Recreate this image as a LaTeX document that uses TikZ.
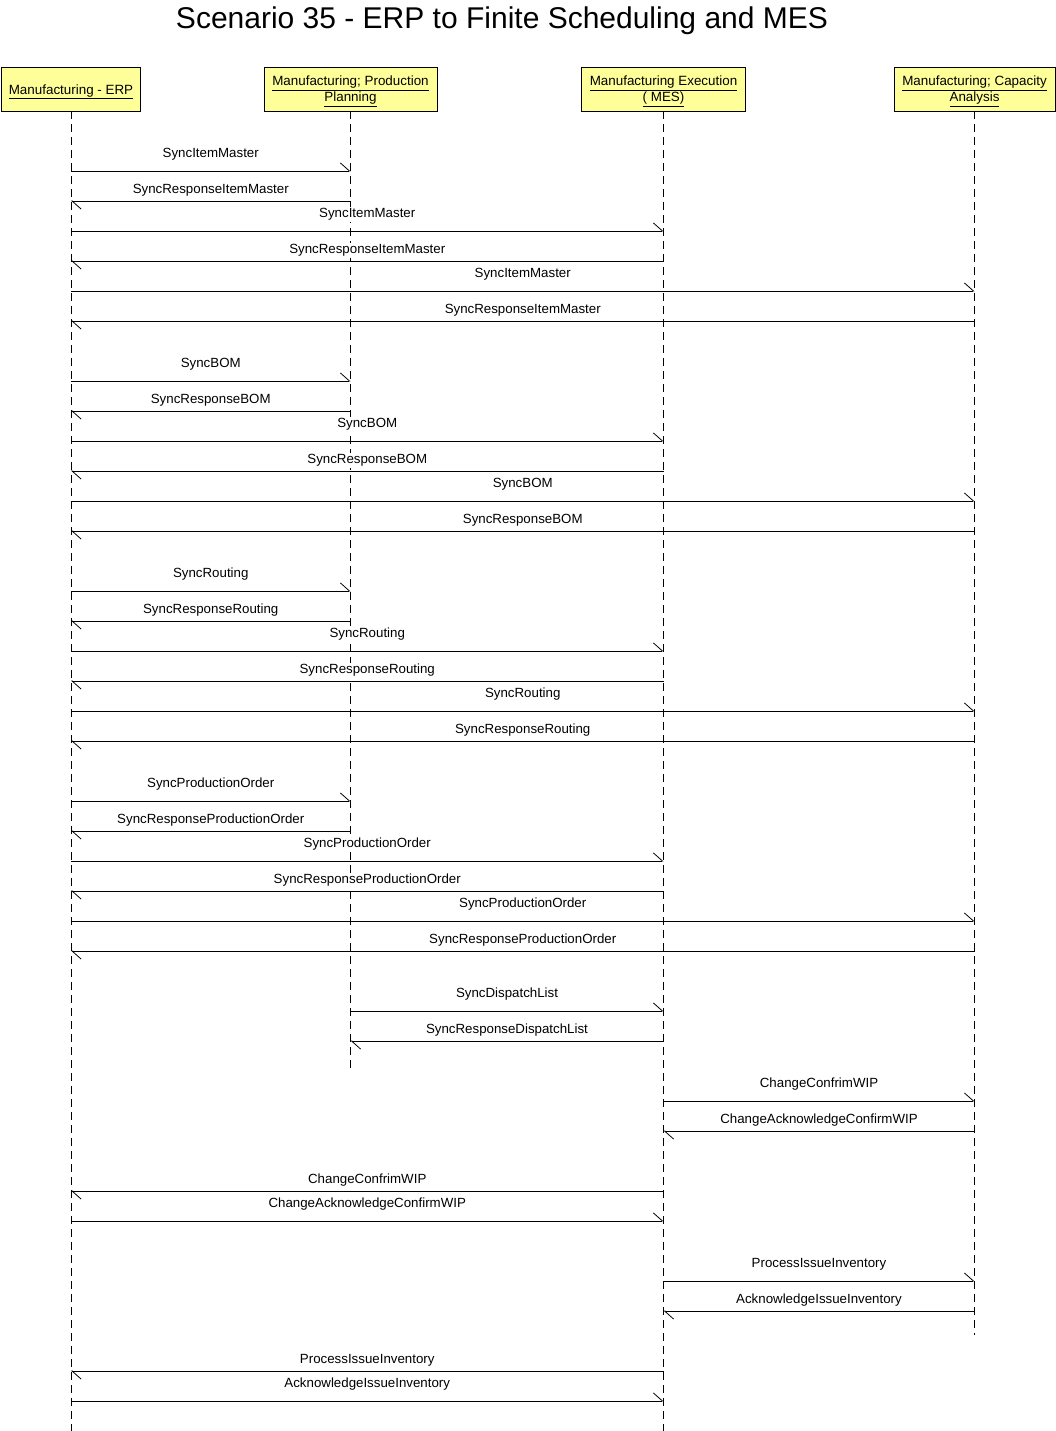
\documentclass[tikz,border=0pt]{standalone}
\usepackage{fontspec}
\setmainfont{Liberation Sans}
\usetikzlibrary{arrows.meta}
\definecolor{boxfill}{HTML}{FFFF99}
\tikzset{
  actor/.style={draw=black, line width=0.8pt, fill=boxfill, inner sep=0pt,
    align=center, font=\fontsize{13.4}{16}\selectfont},
  life/.style={draw=black, line width=0.8pt, dash pattern=on 8pt off 5pt},
  msg/.style={draw=black, line width=0.8pt,
    -{Straight Barb[harpoon, length=9pt, width=16pt, line width=0.8pt]}},
  lbl/.style={fill=white, inner sep=1pt, font=\fontsize{13.3}{16}\selectfont}
}
% rightward call (label higher) and leftward reply (label lower)
\newcommand\callmsg[4]{\draw[msg] (#1.south |- 0,#3) -- node[lbl, yshift=16.5pt] {#4} (#2.south |- 0,#3);}
\newcommand\replymsg[4]{\draw[msg] (#1.south |- 0,#3) -- node[lbl, yshift=10.5pt] {#4} (#2.south |- 0,#3);}
\begin{document}
\begin{tikzpicture}[x=1pt, y=-1pt]
\useasboundingbox (0,0) rectangle (1056,1431);

\node[font=\fontsize{30}{36}\selectfont] (title) at (502,21) {Scenario 35 - ERP to Finite Scheduling and MES};

% participants
\node[actor, minimum width=139pt, minimum height=44pt, text height=14pt, text depth=3pt] (erp) at (71,89) {\underline{Manufacturing - ERP}};
\node[actor, minimum width=173pt, minimum height=44pt, text depth=0pt] (pp) at (350.5,89) {\underline{Manufacturing; Production}\\\underline{Planning}};
\node[actor, minimum width=164pt, minimum height=44pt, text depth=0pt] (mes) at (663.5,89) {\underline{Manufacturing Execution}\\\underline{( MES)}};
\node[actor, minimum width=161pt, minimum height=44pt, text depth=0pt] (ca) at (974.5,89) {\underline{Manufacturing; Capacity}\\\underline{Analysis}};

% lifelines
\coordinate (erpEnd) at (71,1431);
\coordinate (ppEnd) at (350.5,1072);
\coordinate (mesEnd) at (663.5,1431);
\coordinate (caEnd) at (974.5,1335);
\draw[life] (erp.south) -- (erpEnd);
\draw[life] (pp.south) -- (ppEnd);
\draw[life] (mes.south) -- (mesEnd);
\draw[life] (ca.south) -- (caEnd);

% item master
\callmsg{erp}{pp}{171}{SyncItemMaster}
\replymsg{pp}{erp}{201}{SyncResponseItemMaster}
\callmsg{erp}{mes}{231}{SyncItemMaster}
\replymsg{mes}{erp}{261}{SyncResponseItemMaster}
\callmsg{erp}{ca}{291}{SyncItemMaster}
\replymsg{ca}{erp}{321}{SyncResponseItemMaster}

% bill of materials
\callmsg{erp}{pp}{381}{SyncBOM}
\replymsg{pp}{erp}{411}{SyncResponseBOM}
\callmsg{erp}{mes}{441}{SyncBOM}
\replymsg{mes}{erp}{471}{SyncResponseBOM}
\callmsg{erp}{ca}{501}{SyncBOM}
\replymsg{ca}{erp}{531}{SyncResponseBOM}

% routing
\callmsg{erp}{pp}{591}{SyncRouting}
\replymsg{pp}{erp}{621}{SyncResponseRouting}
\callmsg{erp}{mes}{651}{SyncRouting}
\replymsg{mes}{erp}{681}{SyncResponseRouting}
\callmsg{erp}{ca}{711}{SyncRouting}
\replymsg{ca}{erp}{741}{SyncResponseRouting}

% production order
\callmsg{erp}{pp}{801}{SyncProductionOrder}
\replymsg{pp}{erp}{831}{SyncResponseProductionOrder}
\callmsg{erp}{mes}{861}{SyncProductionOrder}
\replymsg{mes}{erp}{891}{SyncResponseProductionOrder}
\callmsg{erp}{ca}{921}{SyncProductionOrder}
\replymsg{ca}{erp}{951}{SyncResponseProductionOrder}

% dispatch list
\callmsg{pp}{mes}{1011}{SyncDispatchList}
\replymsg{mes}{pp}{1041}{SyncResponseDispatchList}

% work in progress
\callmsg{mes}{ca}{1101}{ChangeConfrimWIP}
\replymsg{ca}{mes}{1131}{ChangeAcknowledgeConfirmWIP}
\replymsg{mes}{erp}{1191}{ChangeConfrimWIP}
\callmsg{erp}{mes}{1221}{ChangeAcknowledgeConfirmWIP}

% inventory issue
\callmsg{mes}{ca}{1281}{ProcessIssueInventory}
\replymsg{ca}{mes}{1311}{AcknowledgeIssueInventory}
\replymsg{mes}{erp}{1371}{ProcessIssueInventory}
\callmsg{erp}{mes}{1401}{AcknowledgeIssueInventory}
\end{tikzpicture}
\end{document}
